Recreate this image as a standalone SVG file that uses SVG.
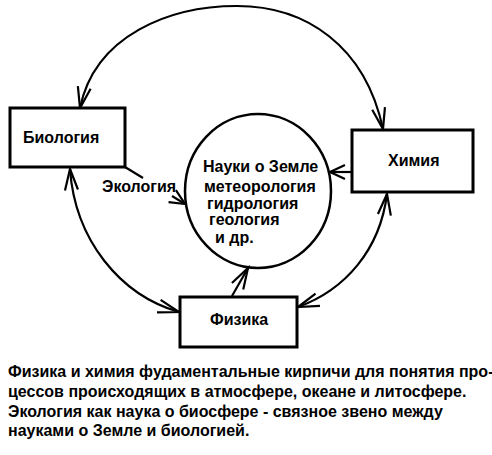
<svg xmlns="http://www.w3.org/2000/svg" width="492" height="455" viewBox="0 0 492 455">
<style>
.box{fill:#fff;stroke:#000;stroke-width:3}
.ring{fill:none;stroke:#000;stroke-width:2.5}
.c{fill:none;stroke:#000;stroke-width:2.2}
text{font-family:"Liberation Sans",Arial,sans-serif;font-weight:bold;font-size:16px;fill:#000}
</style>
<defs>
<marker id="big" markerUnits="userSpaceOnUse" markerWidth="30" markerHeight="30" viewBox="-25 -15 30 30" refX="0" refY="0" orient="auto-start-reverse" overflow="visible">
<path d="M-21,-6.5 L0,0 L-21,6.5" fill="none" stroke="#000" stroke-width="2.2"/>
</marker>
<marker id="small" markerUnits="userSpaceOnUse" markerWidth="30" markerHeight="30" viewBox="-25 -15 30 30" refX="0" refY="0" orient="auto" overflow="visible">
<path d="M-15,-7 L0,0 L-15,7" fill="none" stroke="#000" stroke-width="2.2"/>
</marker>
</defs>
<rect width="492" height="455" fill="#fff"/>
<g id="connectors">
<path class="c" d="M80,108 C95,35 170,6 237,6 C305,6 365,45 383,129" marker-start="url(#big)" marker-end="url(#big)"/>
<path class="c" d="M70,169 C75,240 120,295 179,312" marker-start="url(#big)" marker-end="url(#big)"/>
<path class="c" d="M387,194 C380,250 345,290 298,307" marker-start="url(#big)" marker-end="url(#big)"/>
<path class="c" d="M232,296 L248,268" marker-end="url(#big)"/>
<path class="c" d="M352,172 L330,172" marker-end="url(#small)"/>
<path class="c" d="M125,167 L143,178"/>
<path class="c" d="M172,196 L185,204" marker-end="url(#small)"/>
</g>
<g id="biology">
<rect class="box" x="10" y="108" width="115" height="59"/>
<text x="23" y="143">Биология</text>
</g>
<g id="chemistry">
<rect class="box" x="352" y="130" width="121" height="62"/>
<text x="388" y="166">Химия</text>
</g>
<g id="physics">
<rect class="box" x="180" y="297" width="117" height="50"/>
<text x="210" y="325">Физика</text>
</g>
<g id="earth">
<ellipse class="ring" cx="258" cy="191" rx="73" ry="77"/>
<text x="203" y="172">Науки о Земле</text>
<text x="204" y="192">метеорология</text>
<text x="207" y="209">гидрология</text>
<text x="209" y="225">геология</text>
<text x="215" y="243">и др.</text>
</g>
<g id="ecology-label">
<text x="102" y="192">Экология</text>
</g>
<g id="caption">
<text x="8" y="377">Физика и химия фудаментальные кирпичи для понятия про-</text>
<text x="8" y="397">цессов происходящих в атмосфере, океане и литосфере.</text>
<text x="8" y="417">Экология как наука о биосфере - связное звено между</text>
<text x="8" y="436">науками о Земле и биологией.</text>
</g>
</svg>
